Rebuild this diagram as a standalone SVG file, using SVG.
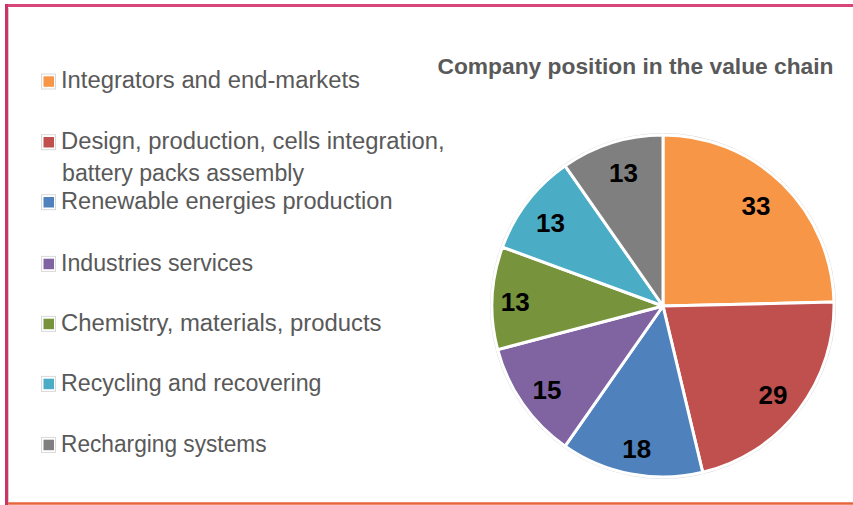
<svg xmlns="http://www.w3.org/2000/svg" width="853" height="505" viewBox="0 0 853 505">
<style>
.leg{font-family:"Liberation Sans",Arial,sans-serif;font-size:23.5px;fill:#595959}
.title{font-family:"Liberation Sans",Arial,sans-serif;font-size:22.8px;font-weight:bold;fill:#595959}
.lbl{font-family:"Liberation Sans",Arial,sans-serif;font-size:26px;font-weight:bold;fill:#000;text-anchor:middle}
.sw{stroke:#d9d9d9;stroke-width:1;fill:#fff}
.sl{stroke:#fff;stroke-width:3;stroke-linejoin:round}
</style>
<rect x="0" y="0" width="853" height="505" fill="#fff"/>
<g id="frame">
<line x1="5" y1="5.5" x2="853" y2="5.5" stroke="#d9457a" stroke-width="3"/>
<line x1="6.5" y1="4" x2="6.5" y2="505" stroke="#cc3366" stroke-width="3"/>
<line x1="8.5" y1="8" x2="8.5" y2="502" stroke="#d0d0d0" stroke-width="1"/>
<line x1="8" y1="503.5" x2="853" y2="503.5" stroke="#e8643a" stroke-width="2.5"/>
</g>
<g id="title"><text class="title" x="437.5" y="73.5" textLength="396" lengthAdjust="spacingAndGlyphs">Company position in the value chain</text></g>
<g id="legend">
<g id="leg1"><rect class="sw" x="41.5" y="74" width="14" height="15"/><rect x="43.5" y="76.3" width="10.5" height="10.5" fill="#F79646"/><text class="leg" x="61" y="88.3" textLength="299" lengthAdjust="spacingAndGlyphs">Integrators and end-markets</text></g>
<g id="leg2"><rect class="sw" x="41.5" y="134.7" width="14" height="15"/><rect x="43.5" y="137" width="10.5" height="10.5" fill="#C0504D"/><text class="leg" x="61" y="149" textLength="383.5" lengthAdjust="spacingAndGlyphs">Design, production, cells integration,</text><text class="leg" x="62" y="181" textLength="242" lengthAdjust="spacingAndGlyphs">battery packs assembly</text></g>
<g id="leg3"><rect class="sw" x="41.5" y="194.7" width="14" height="15"/><rect x="43.5" y="197" width="10.5" height="10.5" fill="#4F81BD"/><text class="leg" x="61" y="209" textLength="331.5" lengthAdjust="spacingAndGlyphs">Renewable energies production</text></g>
<g id="leg4"><rect class="sw" x="41.5" y="256.4" width="14" height="15"/><rect x="43.5" y="258.7" width="10.5" height="10.5" fill="#8064A2"/><text class="leg" x="61" y="270.7" textLength="192" lengthAdjust="spacingAndGlyphs">Industries services</text></g>
<g id="leg5"><rect class="sw" x="41.5" y="316.4" width="14" height="15"/><rect x="43.5" y="318.7" width="10.5" height="10.5" fill="#77933C"/><text class="leg" x="61" y="330.7" textLength="320.5" lengthAdjust="spacingAndGlyphs">Chemistry, materials, products</text></g>
<g id="leg6"><rect class="sw" x="41.5" y="376.4" width="14" height="15"/><rect x="43.5" y="378.7" width="10.5" height="10.5" fill="#4BACC6"/><text class="leg" x="61" y="390.7" textLength="260.5" lengthAdjust="spacingAndGlyphs">Recycling and recovering</text></g>
<g id="leg7"><rect class="sw" x="41.5" y="437.4" width="14" height="15"/><rect x="43.5" y="439.7" width="10.5" height="10.5" fill="#7F7F7F"/><text class="leg" x="61" y="451.7" textLength="205.5" lengthAdjust="spacingAndGlyphs">Recharging systems</text></g>
</g>
<g id="pie">
<circle cx="663" cy="306" r="172.5" fill="none" stroke="#d9d9d9" stroke-width="1"/>
<path id="s1" class="sl" fill="#F79646" d="M663,306 L663,135 A171,171 0 0 1 833.95,301.99 Z"/>
<path id="s2" class="sl" fill="#C0504D" d="M663,306 L833.95,301.99 A171,171 0 0 1 702.72,472.32 Z"/>
<path id="s3" class="sl" fill="#4F81BD" d="M663,306 L702.72,472.32 A171,171 0 0 1 565.10,446.20 Z"/>
<path id="s4" class="sl" fill="#8064A2" d="M663,306 L565.10,446.20 A171,171 0 0 1 497.65,349.61 Z"/>
<path id="s5" class="sl" fill="#77933C" d="M663,306 L497.65,349.61 A171,171 0 0 1 502.47,247.10 Z"/>
<path id="s6" class="sl" fill="#4BACC6" d="M663,306 L502.47,247.10 A171,171 0 0 1 565.10,165.80 Z"/>
<path id="s7" class="sl" fill="#7F7F7F" d="M663,306 L565.10,165.80 A171,171 0 0 1 663,135 Z"/>
</g>
<g id="labels">
<text class="lbl" x="756" y="215">33</text>
<text class="lbl" x="773" y="403.5">29</text>
<text class="lbl" x="636.7" y="457.6">18</text>
<text class="lbl" x="547" y="399">15</text>
<text class="lbl" x="515.3" y="311">13</text>
<text class="lbl" x="550.5" y="232.3">13</text>
<text class="lbl" x="623.5" y="182">13</text>
</g>
</svg>
